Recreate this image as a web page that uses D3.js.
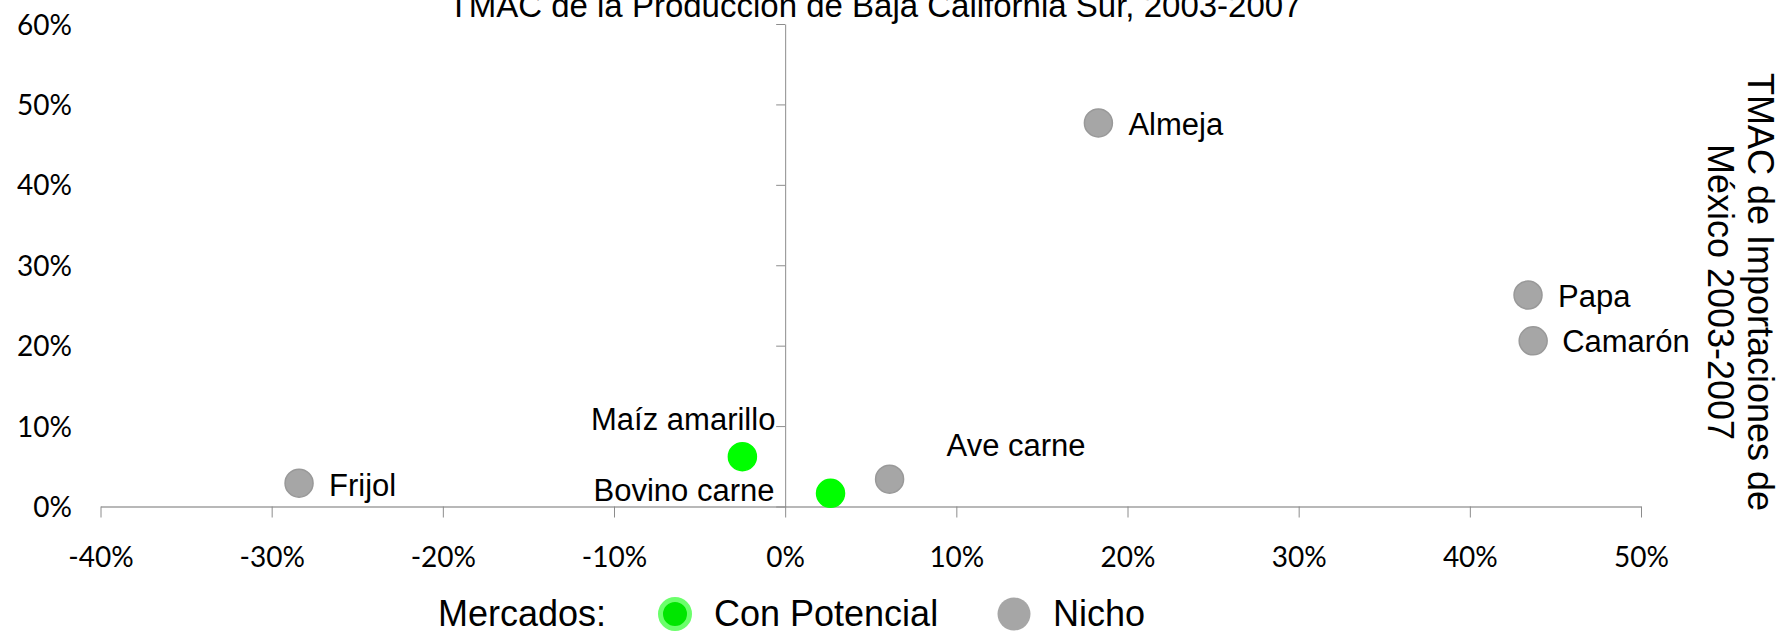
<!DOCTYPE html>
<html>
<head>
<meta charset="utf-8">
<title>TMAC Baja California Sur</title>
<script src="https://d3js.org/d3.v7.min.js"></script>
<style>
  body { margin: 0; padding: 0; background: #fff; overflow: hidden; }
  svg { display: block; }
  .lbl { font-family: "Liberation Sans", Arial, sans-serif; fill: #000; }
  .tick text { font-family: Lato, "Open Sans", sans-serif; font-size: 28px; fill: #000; }
</style>
</head>
<body>
<svg id="chart"></svg>
<script>
// data
var productos = ["Almeja", "Papa", "Camarón", "Frijol", "Maíz amarillo", "Bovino carne", "Ave carne"];
var tmacProduccion = [0.183, 0.434, 0.437, -0.284, -0.025, 0.0265, 0.061];   // x
var tmacImportaciones = [0.477, 0.263, 0.206, 0.029, 0.062, 0.0164, 0.034];  // y
var mercado = ["Nicho", "Nicho", "Nicho", "Nicho", "Con Potencial", "Con Potencial", "Nicho"];
var xTicks = [-0.4, -0.3, -0.2, -0.1, 0, 0.1, 0.2, 0.3, 0.4, 0.5];
var yTicks = [0, 0.1, 0.2, 0.3, 0.4, 0.5, 0.6];
var leyenda = ["Con Potencial", "Nicho"];

// where each label sits relative to its point (hand placed in the original)
var labelPos = {
  "Almeja":        {dx: 30,  dy: 12,  anchor: "start"},
  "Papa":          {dx: 30,  dy: 12,  anchor: "start"},
  "Camarón":       {dx: 29,  dy: 11,  anchor: "start"},
  "Frijol":        {dx: 30,  dy: 13,  anchor: "start"},
  "Maíz amarillo": {dx: 33,  dy: -27, anchor: "end"},
  "Bovino carne":  {dx: -56, dy: 8,   anchor: "end"},
  "Ave carne":     {dx: 57,  dy: -23, anchor: "start"}
};

var width = 1785, height = 635;
var color = {"Con Potencial": "#00ff00", "Nicho": "#a6a6a6"};

var svg = d3.select("#chart").attr("width", width).attr("height", height);

var x = d3.scaleLinear().domain([-0.4, 0.5]).range([100.5, 1641]);
var y = d3.scaleLinear().domain([0, 0.6]).range([506.5, 24]);
// plain hyphen for negatives, like the original
var pct = function(d) { return Math.round(d * 100) + "%"; };

// x axis along y = 0
var xAxis = d3.axisBottom(x)
  .tickValues(xTicks)
  .tickFormat(pct)
  .tickSize(11)
  .tickSizeOuter(0)
  .tickPadding(30);

var gx = svg.append("g")
  .attr("transform", "translate(0," + y(0) + ")")
  .call(xAxis);
gx.select(".domain").attr("stroke", "#b8b8b8").attr("stroke-width", 2);
gx.selectAll(".tick line").attr("stroke", "#8c8c8c");

// y axis along x = 0, labels pushed out to the left edge
var yAxis = d3.axisLeft(y)
  .tickValues(yTicks)
  .tickFormat(pct)
  .tickSize(9)
  .tickSizeOuter(0);

var gy = svg.append("g")
  .attr("transform", "translate(" + x(0) + ",0)")
  .call(yAxis);
gy.select(".domain").attr("stroke", "#8c8c8c").attr("stroke-width", 1);
gy.selectAll(".tick line").attr("stroke", "#8c8c8c");
gy.selectAll(".tick text").attr("x", 72 - x(0)).attr("dy", "0.36em");

// title (top is cut off in the original)
svg.append("text")
  .attr("class", "lbl")
  .attr("x", 875)
  .attr("y", 16.5)
  .attr("text-anchor", "middle")
  .style("font-size", "33px")
  .text("TMAC de la Producción de Baja California Sur, 2003-2007");

// right side axis title, rotated
var yt = svg.append("text")
  .attr("class", "lbl")
  .attr("transform", "translate(1748,292) rotate(90)")
  .attr("text-anchor", "middle")
  .style("font-size", "36px");
yt.append("tspan").attr("x", 0).attr("y", 0).text("TMAC de Importaciones de");
yt.append("tspan").attr("x", 0).attr("dy", 40).text("México 2003-2007");

// points
var pts = productos.map(function(p, i) {
  return {name: p, px: tmacProduccion[i], py: tmacImportaciones[i], tipo: mercado[i]};
});

svg.append("g").selectAll("circle")
  .data(pts)
  .join("circle")
  .attr("cx", function(d) { return x(d.px); })
  .attr("cy", function(d) { return y(d.py); })
  .attr("r", 14)
  .attr("fill", function(d) { return color[d.tipo]; })
  .attr("stroke", function(d) { return d.tipo == "Nicho" ? "#999999" : "#00ff00"; })
  .attr("stroke-width", 1.5);

svg.append("g").selectAll("text")
  .data(pts)
  .join("text")
  .attr("class", "lbl")
  .attr("x", function(d) { return x(d.px) + labelPos[d.name].dx; })
  .attr("y", function(d) { return y(d.py) + labelPos[d.name].dy; })
  .attr("text-anchor", function(d) { return labelPos[d.name].anchor; })
  .style("font-size", "31px")
  .text(function(d) { return d.name; });

// legend
var lg = svg.append("g");
lg.append("text")
  .attr("class", "lbl")
  .attr("x", 438).attr("y", 626)
  .style("font-size", "36px")
  .text("Mercados:");

var legX = [675, 1014];
leyenda.forEach(function(k, i) {
  if (k == "Con Potencial") {
    lg.append("circle").attr("cx", legX[i]).attr("cy", 614).attr("r", 14.5)
      .attr("fill", "#00e600").attr("stroke", "#6bff6b").attr("stroke-width", 5);
  } else {
    lg.append("circle").attr("cx", legX[i]).attr("cy", 614).attr("r", 16.5)
      .attr("fill", color[k]);
  }
  lg.append("text")
    .attr("class", "lbl")
    .attr("x", legX[i] + 39).attr("y", 626)
    .style("font-size", "36px")
    .text(k);
});
</script>
</body>
</html>
